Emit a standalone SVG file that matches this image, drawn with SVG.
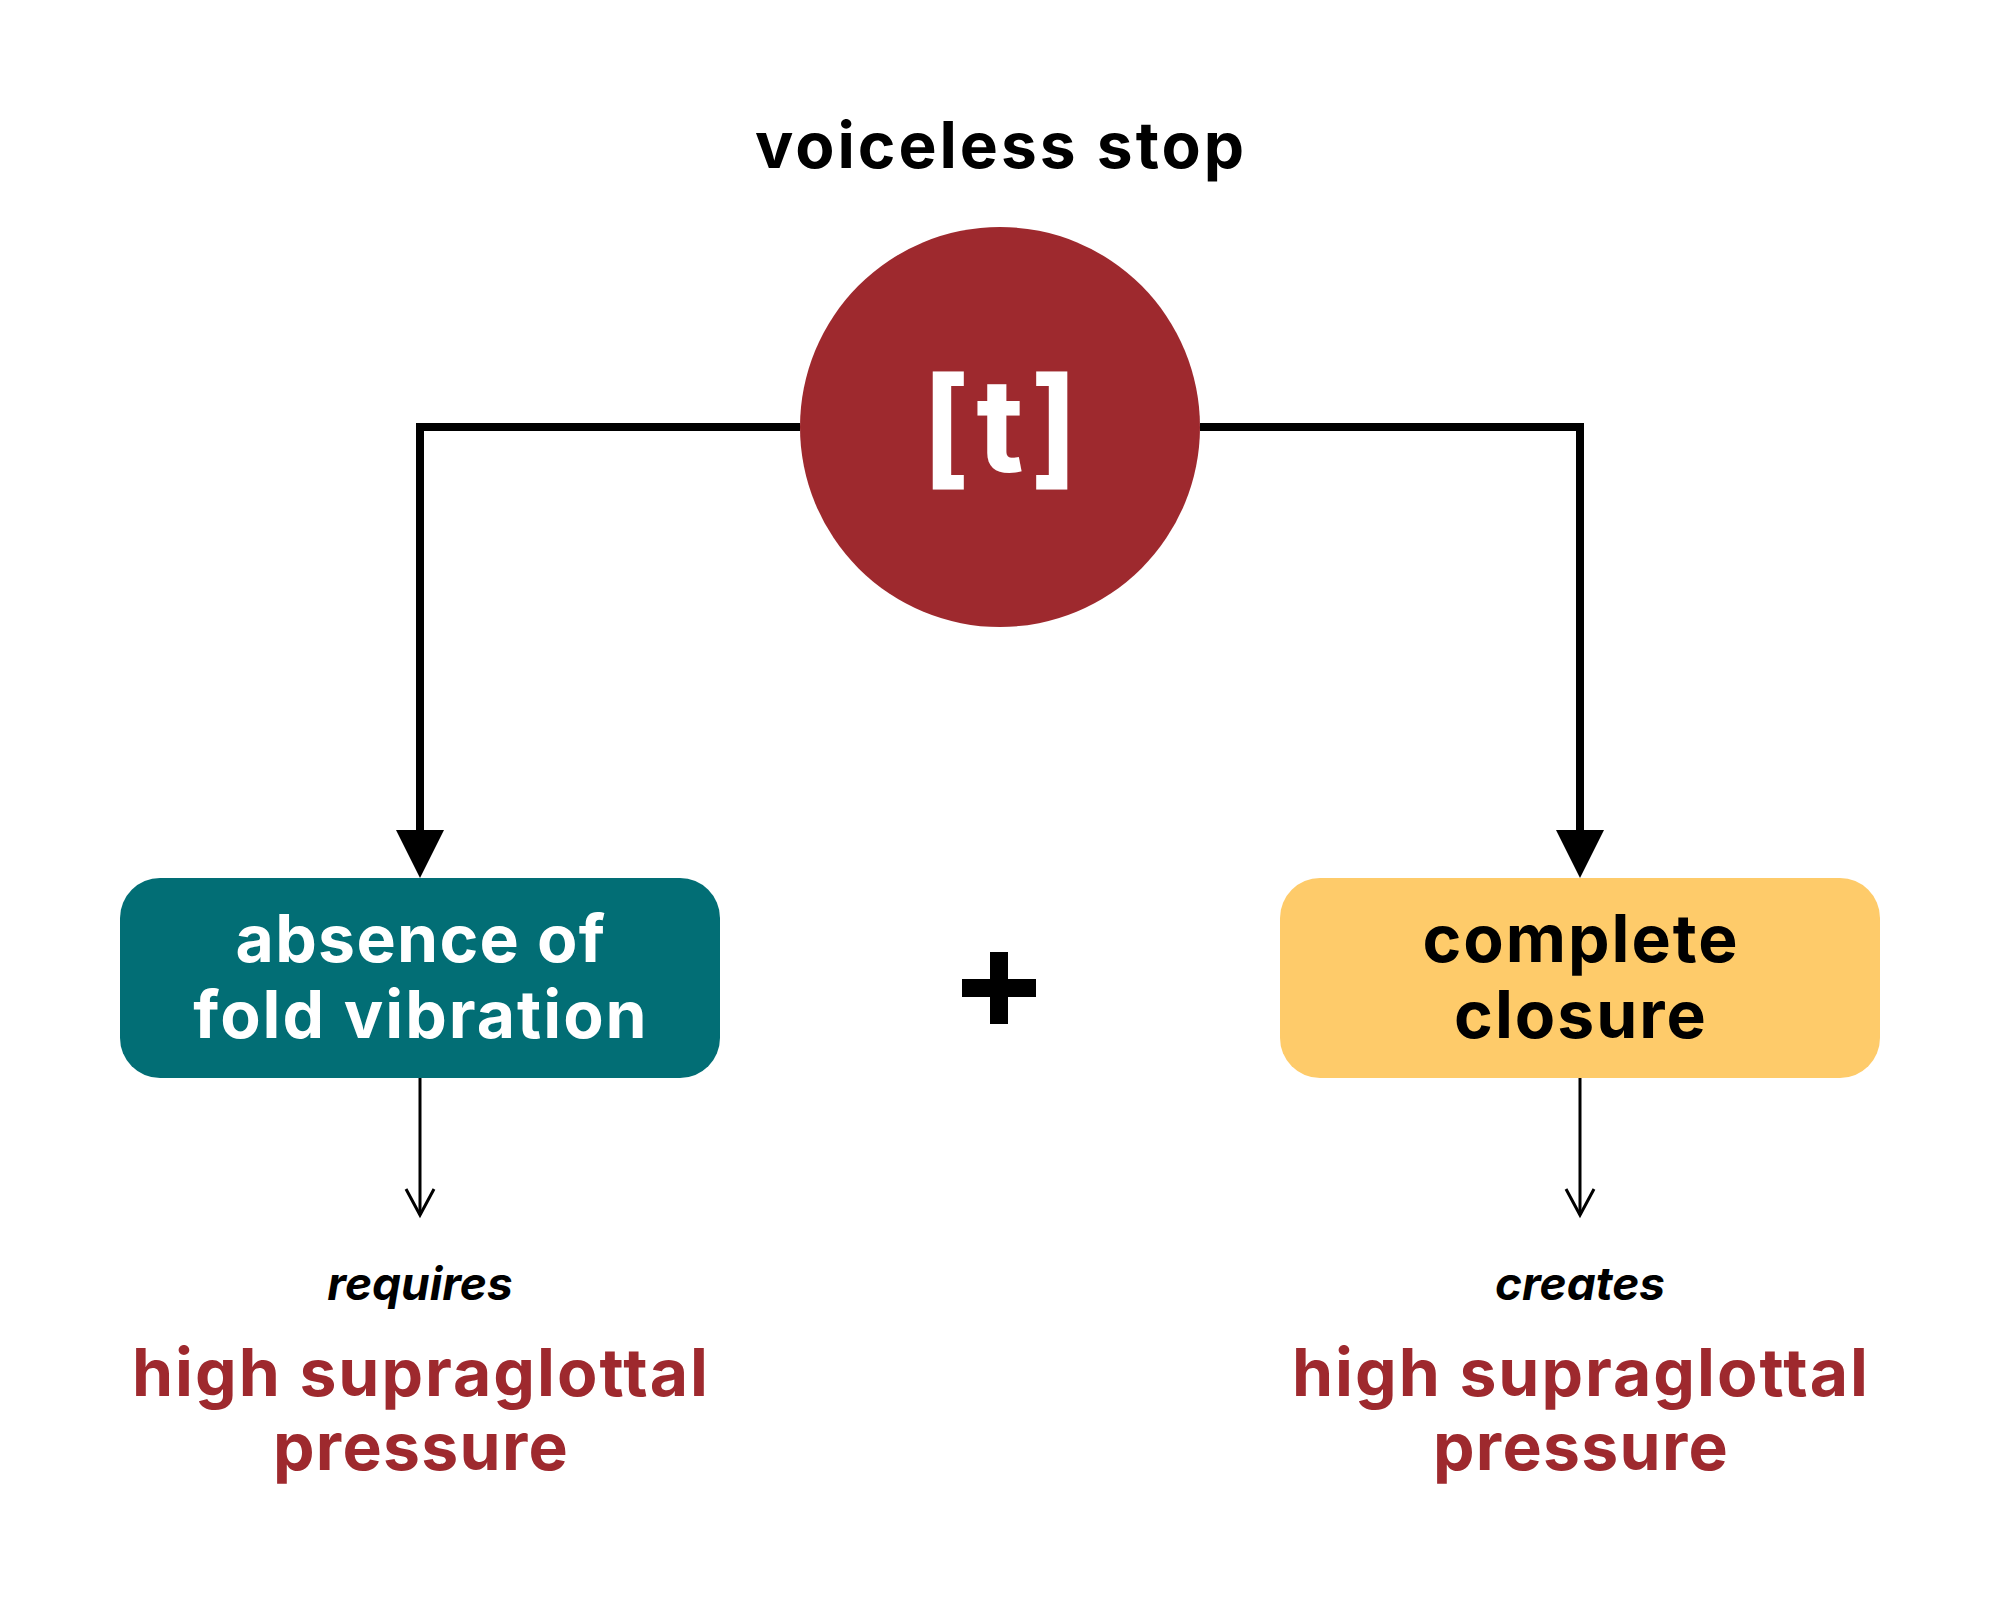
<svg xmlns="http://www.w3.org/2000/svg" width="2000" height="1600" viewBox="0 0 2000 1600">
<style>
.t{font-family:Inter,"Noto Sans","DejaVu Sans",sans-serif;font-weight:700;text-anchor:middle}
.big{font-size:66px;letter-spacing:2px}
.tight{letter-spacing:1.3px}
.lab{font-size:46px;font-style:italic;letter-spacing:0px;fill:#000}
.conn{fill:none;stroke:#000;stroke-width:8}
.thin{fill:none;stroke:#000;stroke-width:3}
.red{fill:#9E292E}
</style>
<rect width="2000" height="1600" fill="#fff"/>
<text id="title" class="t" x="1001" y="168" font-size="64" letter-spacing="3" fill="#000">voiceless stop</text>
<g id="connectors">
<path class="conn" d="M800,427 H420 V832"/>
<polygon points="396,830 444,830 420,878" fill="#000"/>
<path class="conn" d="M1200,427 H1580 V832"/>
<polygon points="1556,830 1604,830 1580,878" fill="#000"/>
<path class="thin" d="M420,1078 V1215"/>
<path class="thin" d="M406,1189 L420,1215 L434,1189"/>
<path class="thin" d="M1580,1078 V1215"/>
<path class="thin" d="M1566,1189 L1580,1215 L1594,1189"/>
</g>
<g id="node-t">
<circle cx="1000" cy="427" r="200" fill="#9E292E"/>
<text class="t" x="1003" y="472" font-size="130" letter-spacing="6" fill="#fff">[t]</text>
</g>
<g id="node-absence">
<rect x="120" y="878" width="600" height="200" rx="40" fill="#026E75"/>
<text class="t big tight" x="421" y="962" fill="#fff">absence of</text>
<text class="t big" x="421" y="1038" fill="#fff">fold vibration</text>
</g>
<g id="plus">
<rect x="962" y="979" width="74" height="18" fill="#000"/>
<rect x="990" y="952" width="18" height="72" fill="#000"/>
</g>
<g id="node-closure">
<rect x="1280" y="878" width="600" height="200" rx="40" fill="#FECB6A"/>
<text class="t big" x="1581" y="962" fill="#000">complete</text>
<text class="t big" x="1581" y="1038" fill="#000">closure</text>
</g>
<g id="result-left">
<text class="t lab" x="420" y="1300">requires</text>
<text class="t big red" x="421" y="1396">high supraglottal</text>
<text class="t big tight red" x="421" y="1470">pressure</text>
</g>
<g id="result-right">
<text class="t lab" x="1580" y="1300">creates</text>
<text class="t big red" x="1581" y="1396">high supraglottal</text>
<text class="t big tight red" x="1581" y="1470">pressure</text>
</g>
</svg>
